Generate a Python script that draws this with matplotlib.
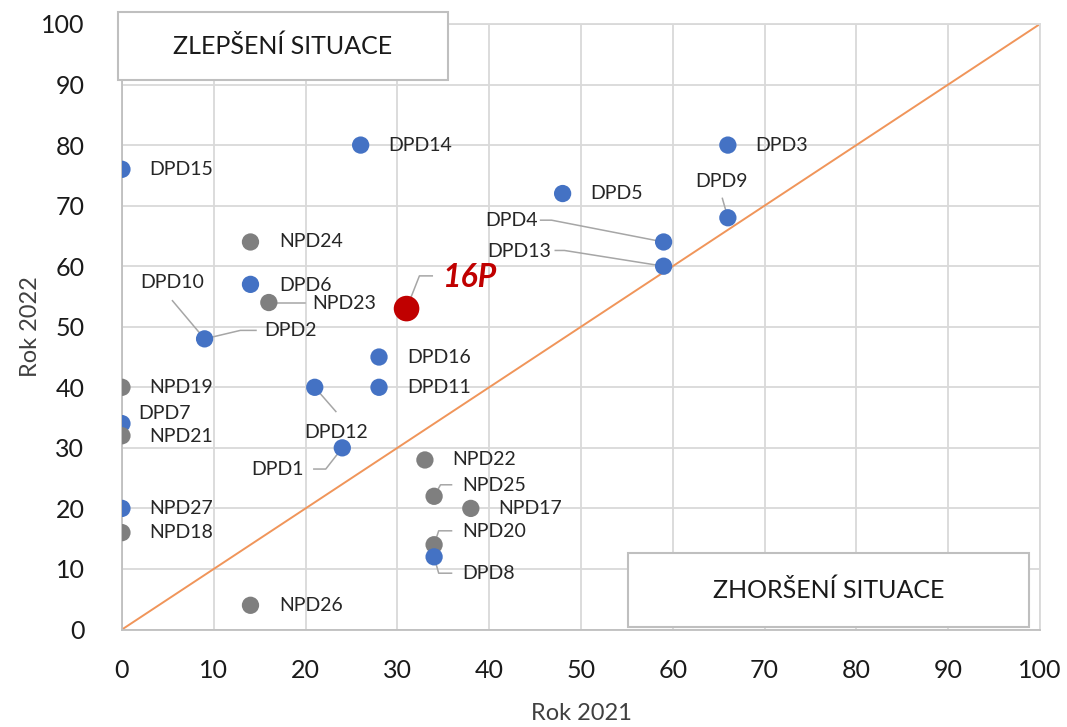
import matplotlib.pyplot as plt
from matplotlib.patches import Rectangle

plt.rcParams['font.family'] = ['Lato', 'DejaVu Sans']

# Indicator scores in 2021 and 2022
names = ['DPD15', 'DPD14', 'DPD3', 'DPD9', 'DPD5', 'DPD4', 'DPD13', 'NPD24', 'DPD6',
         'NPD23', '16P', 'DPD10', 'DPD16', 'DPD11', 'DPD12', 'NPD19', 'DPD7', 'NPD21',
         'DPD1', 'NPD22', 'NPD25', 'NPD17', 'NPD27', 'NPD18', 'NPD20', 'DPD8', 'NPD26']
rok_2021 = [0, 26, 66, 66, 48, 59, 59, 14, 14,
            16, 31, 9, 28, 28, 21, 0, 0, 0,
            24, 33, 34, 38, 0, 0, 34, 34, 14]
rok_2022 = [76, 80, 80, 68, 72, 64, 60, 64, 57,
            54, 53, 48, 45, 40, 40, 40, 34, 32,
            30, 28, 22, 20, 20, 16, 14, 12, 4]

BLUE, GREY, RED = '#4472C4', '#7F7F7F', '#C00000'
colors = [BLUE, BLUE, BLUE, BLUE, BLUE, BLUE, BLUE, GREY, BLUE,
          GREY, RED, BLUE, BLUE, BLUE, BLUE, GREY, BLUE, GREY,
          BLUE, GREY, GREY, GREY, BLUE, GREY, GREY, BLUE, GREY]

# label placement: (x, y, horizontal alignment)
label_pos = {
    'DPD15': (3, 76, 'left'), 'DPD14': (29, 80, 'left'), 'DPD3': (69, 80, 'left'),
    'DPD9': (65.3, 74, 'center'), 'DPD5': (51, 72, 'left'), 'DPD4': (45.3, 67.5, 'right'),
    'DPD13': (46.8, 62.4, 'right'), 'NPD24': (17.1, 64, 'left'), 'DPD6': (17.1, 56.8, 'left'),
    'NPD23': (20.7, 53.9, 'left'), '16P': (35, 58.2, 'left'), 'DPD10': (5.5, 57.3, 'center'),
    'DPD16': (31.1, 45, 'left'), 'DPD11': (31.1, 40, 'left'), 'DPD12': (23.3, 32.6, 'center'),
    'NPD19': (3, 40, 'left'), 'DPD7': (1.8, 35.6, 'left'), 'NPD21': (3, 31.8, 'left'),
    'DPD1': (19.8, 26.4, 'right'), 'NPD22': (36, 28, 'left'), 'NPD25': (37.1, 23.8, 'left'),
    'NPD17': (41, 20, 'left'), 'NPD27': (3, 20, 'left'), 'NPD18': (3, 16, 'left'),
    'NPD20': (37.1, 16.2, 'left'), 'DPD8': (37.1, 9.2, 'left'), 'NPD26': (17.1, 4, 'left'),
}
extra_labels = [('DPD2', 15.5, 49.3)]

# leader lines drawn from the point through these vertices
leaders = {
    'DPD9': [(65.4, 71.2)],
    'DPD4': [(46.8, 67.6), (45.6, 67.6)],
    'DPD13': [(48.2, 62.6), (47.2, 62.6)],
    'NPD23': [(19.9, 54)],
    '16P': [(32.4, 58.4), (33.8, 58.4)],
    'DPD10': [(5.5, 54.3)],
    'DPD12': [(23.3, 36)],
    'DPD1': [(22.2, 26.5), (20.9, 26.5)],
    'NPD25': [(34.7, 23.9), (35.9, 23.9)],
    'NPD20': [(34.5, 16.3), (35.9, 16.3)],
    'DPD8': [(34.5, 9.3), (35.9, 9.3)],
}
leader_dpd2 = [(9, 48), (12.9, 49.4), (14.6, 49.4)]

fig = plt.figure(figsize=(10.67, 7.27), dpi=100)
ax = fig.add_axes([0.1143, 0.1341, 0.8604, 0.8329])
ax.set_xlim(0, 100)
ax.set_ylim(0, 100)
ax.set_xticks(range(0, 101, 10))
ax.set_yticks(range(0, 101, 10))
ax.grid(True, color='#D9D9D9', lw=1.3, zorder=0)
ax.set_axisbelow(True)
for side, sp in ax.spines.items():
    sp.set_color('#D9D9D9' if side in ('top', 'right') else '#BFBFBF')
    sp.set_linewidth(1.3)
ax.tick_params(length=0, labelsize=18, colors='#1A1A1A')
ax.tick_params(axis='y', pad=27)
ax.tick_params(axis='x', pad=21)
ax.set_xlabel('Rok 2021', fontsize=17, color='#404040', labelpad=15)
ax.set_ylabel('Rok 2022', fontsize=17, color='#404040', labelpad=0)

ax.plot([0, 100], [0, 100], color='#F0955A', lw=1.4, zorder=2)

for name, x, y in zip(names, rok_2021, rok_2022):
    if name in leaders:
        pts = [(x, y)] + leaders[name]
        ax.plot([p[0] for p in pts], [p[1] for p in pts], color='#A6A6A6', lw=1.1, zorder=3)
ax.plot([p[0] for p in leader_dpd2], [p[1] for p in leader_dpd2], color='#A6A6A6', lw=1.1, zorder=3)

sizes = [340 if n == '16P' else 155 for n in names]
ax.scatter(rok_2021, rok_2022, s=sizes, c=colors, linewidths=0, zorder=4)

for name in names:
    tx, ty, ha = label_pos[name]
    if name == '16P':
        ax.text(tx, ty, name, ha=ha, va='center', fontsize=23, color=RED,
                fontweight='bold', fontstyle='italic', zorder=5)
    else:
        ax.text(tx, ty, name, ha=ha, va='center', fontsize=14, color='#262626', zorder=5)
for name, tx, ty in extra_labels:
    ax.text(tx, ty, name, ha='left', va='center', fontsize=14, color='#262626', zorder=5)

# corner boxes
for (x0, y0, w, h, txt) in [(118, 12, 330, 68, 'ZLEPŠENÍ SITUACE'),
                            (628, 553, 401, 74, 'ZHORŠENÍ SITUACE')]:
    W, H = 1067, 727
    rect = Rectangle((x0 / W, 1 - (y0 + h) / H), w / W, h / H, transform=fig.transFigure,
                     facecolor='white', edgecolor='#BFBFBF', lw=1.5, zorder=10)
    fig.add_artist(rect)
    fig.text((x0 + w / 2) / W, 1 - (y0 + h / 2) / H, txt, ha='center', va='center',
             fontsize=18, color='#1A1A1A', zorder=11)

fig.savefig('out.png', dpi=100)
